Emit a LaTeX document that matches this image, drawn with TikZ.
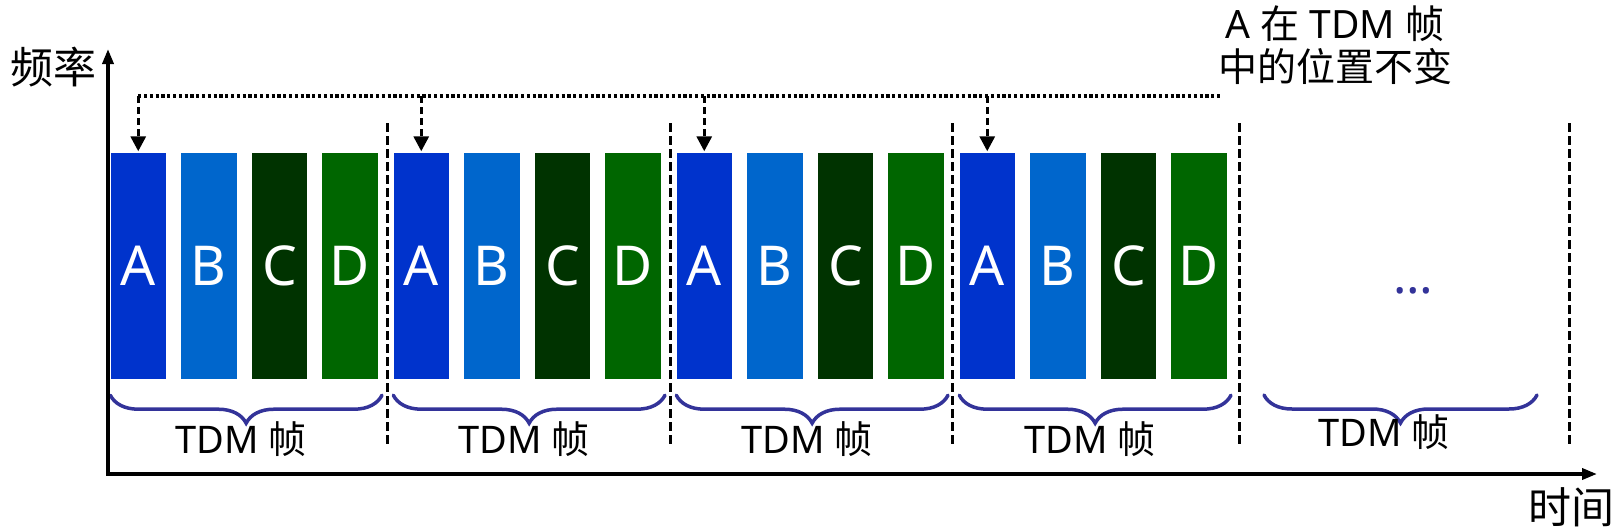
\documentclass[tikz,border=0pt]{standalone}
\usepackage{fontspec}
\setmainfont{Noto Sans}
\newfontfamily\cjk{Noto Sans CJK SC}
\usetikzlibrary{arrows.meta,decorations.pathreplacing,calc}
\definecolor{cA}{HTML}{0033CC}
\definecolor{cB}{HTML}{0066CC}
\definecolor{cC}{HTML}{003300}
\definecolor{cD}{HTML}{006600}
\definecolor{brc}{HTML}{333399}
\begin{document}
\begin{tikzpicture}[x=1pt,y=-1pt,
 bar/.style={rectangle, minimum width=55.5pt, minimum height=226pt, inner sep=0pt, text=white, font=\fontsize{55}{60}\selectfont},
 sep/.style={line width=3pt, dash pattern=on 8.5pt off 4.5pt},
 guide/.style={line width=3.5pt, dash pattern=on 3.2pt off 2.6pt},
 drop/.style={line width=3.2pt, dash pattern=on 7pt off 4pt, -{Triangle[length=15pt,width=15pt]}, shorten >=1.5pt},
 brc/.style={draw=brc, line width=3.5pt, line cap=round, decorate, decoration={brace, mirror, amplitude=28pt}},
 lab/.style={font=\fontsize{38}{42}\selectfont, inner sep=0pt},
 axis/.style={line width=3.5pt, {Triangle[length=15pt,width=11pt]}-{Triangle[length=15pt,width=11pt]}},
 axlab/.style={font=\cjk\fontsize{43}{43}\selectfont, inner sep=0pt}
]
\useasboundingbox (0,0) rectangle (1620,528);

% bars
\foreach \f [evaluate=\f as \fx using {110.5+283*(\f-1)}] in {1,2,3,4} {
  \foreach \s/\l/\c in {0/A/cA,1/B/cB,2/C/cC,3/D/cD} {
    \node[bar, fill=\c] (\l\f) at ({\fx+27.75+70.6*\s},266) {\l};
  }
}

% frame separators
\foreach \x in {387,670,952,1239,1569} \draw[sep] (\x,123) -- (\x,448);

% guide line and arrows
\coordinate (dl) at (137,96);
\coordinate (dr) at (1221,96);
\draw[guide] (A1.north |- dl) -- (dr);
\foreach \f in {1,...,4} \draw[drop] (A\f.north |- dl) -- (A\f.north);

% braces and labels
\foreach \f in {1,...,4} {
  \draw[brc] ($(A\f.south west)+(0,16)$) -- ($(D\f.south east)+(4,16)$);
  \node[lab] (t\f) at ($(A\f.south west)!0.5!(D\f.south east)+(-3,60)$) {TDM {\cjk 帧}};
}
\coordinate (b5l) at (1264,395);
\coordinate (b5r) at (1537,395);
\draw[brc] (b5l) -- (b5r);
\node[lab] (t5) at (1384,432) {TDM {\cjk 帧}};
\node[text=brc, font=\fontsize{50}{50}\selectfont, inner sep=0pt] (dots) at (1413,291) {…};

% axes
\coordinate (o) at (108,474);
\coordinate (ytip) at (108,49);
\coordinate (xtip) at (1597,474);
\draw[axis] (ytip) -- (o) -- (xtip);
\node[axlab] (fl) at (53,67) {频率};
\node[axlab] (tl) at (1571,507) {时间};

% note
\node[align=center, font=\fontsize{39}{43}\selectfont, inner sep=0pt] (note) at (1335,45) {A {\cjk 在} TDM {\cjk 帧}\\{\cjk 中的位置不变}};
\end{tikzpicture}
\end{document}
